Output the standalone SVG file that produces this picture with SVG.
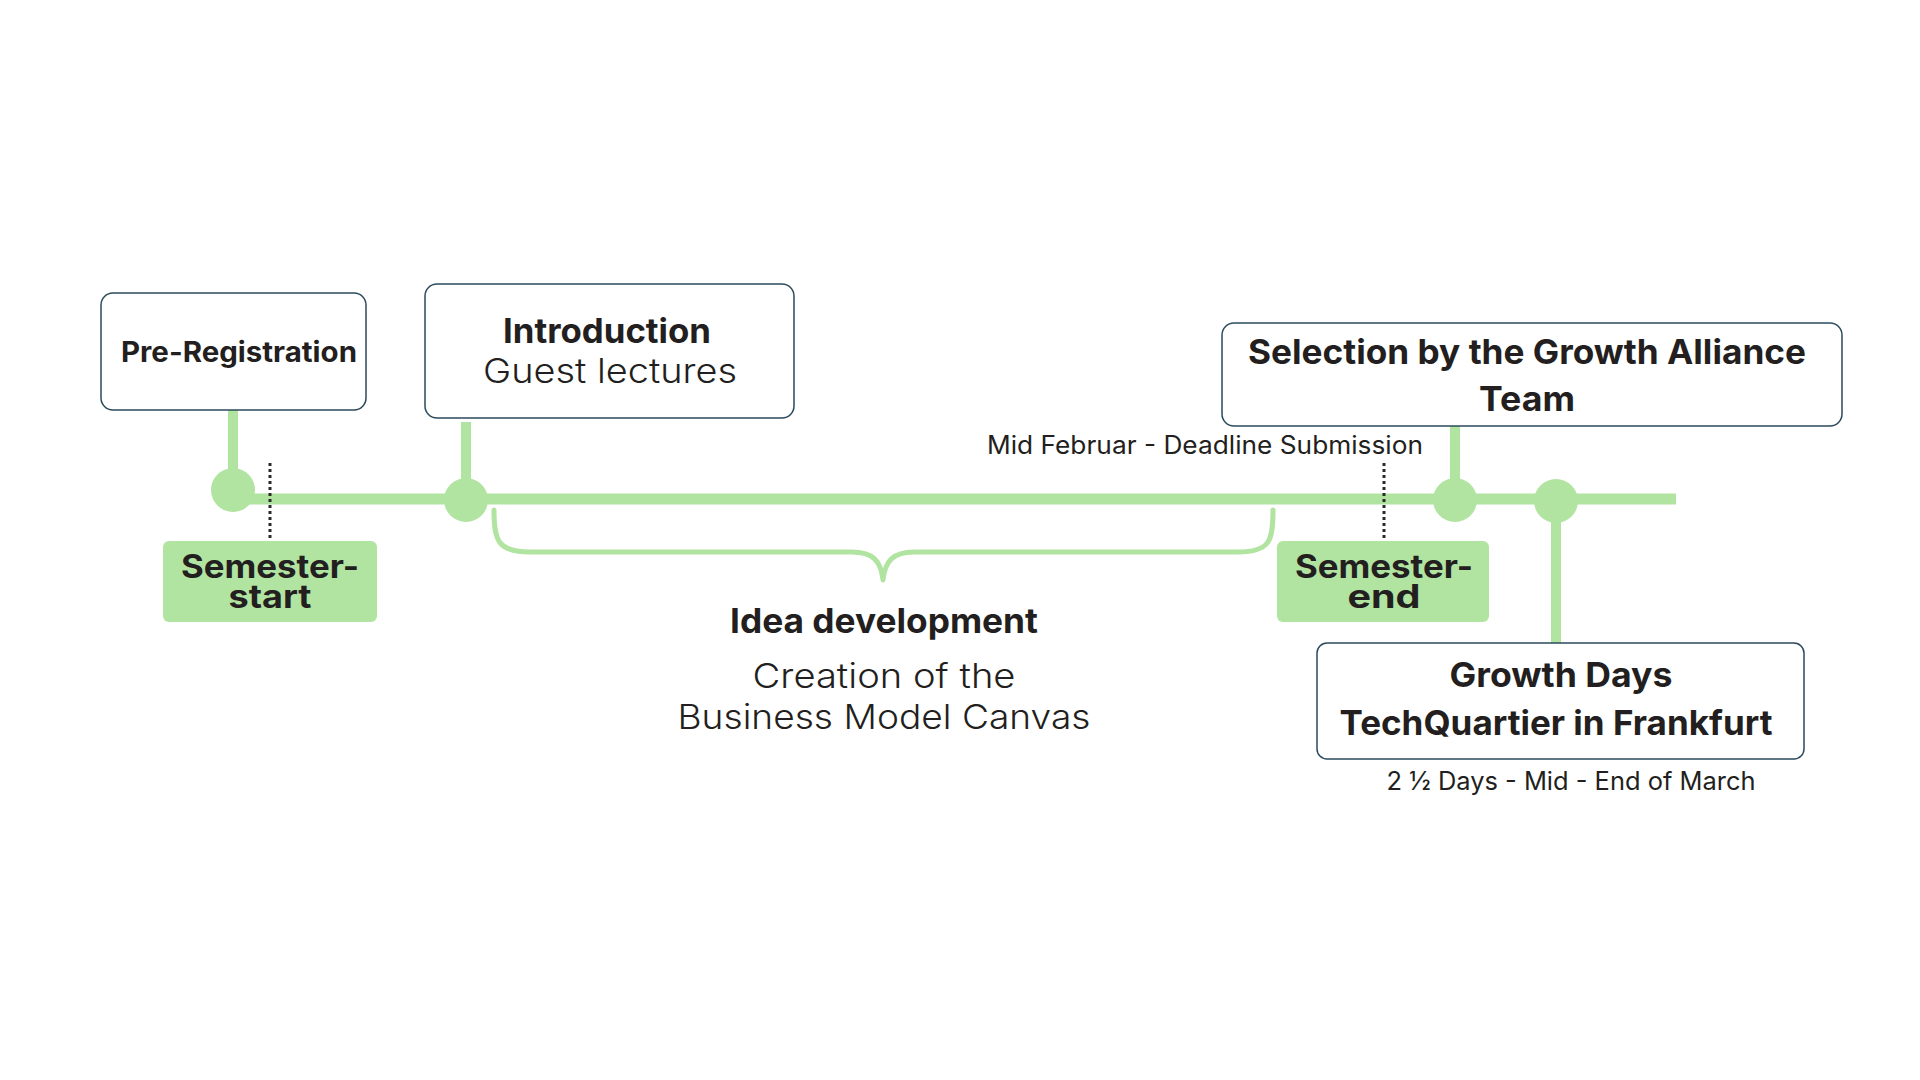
<svg xmlns="http://www.w3.org/2000/svg" width="1920" height="1080" viewBox="0 0 1920 1080">
<style>
.box{fill:#ffffff;stroke:#2b4a5c;stroke-width:1.5}
.tag{fill:#b1e4a1}
.t{font-family:Inter,"Noto Sans","Liberation Sans",sans-serif;fill:#231f20}
.b{font-weight:700}
.l{font-weight:300}
.r{font-weight:400}
.g{fill:#b1e4a1}
.stem{stroke:#b1e4a1;stroke-width:10;fill:none}
.dot{stroke:#2a2a2a;stroke-width:3;stroke-dasharray:3 3;fill:none}
</style>
<rect width="1920" height="1080" fill="#ffffff"/>
<g id="connectors">
<line class="stem" x1="233" y1="499" x2="1676" y2="499" style="stroke-width:11"/>
<line class="stem" x1="233" y1="410" x2="233" y2="490"/>
<line class="stem" x1="466" y1="422" x2="466" y2="500"/>
<line class="stem" x1="1455" y1="426" x2="1455" y2="500"/>
<line class="stem" x1="1556" y1="500" x2="1556" y2="643"/>
<path d="M494 510 C494 541 498 552 530 552 L852 552 C873 552 881 561 883 580 C885 561 893 552 914 552 L1238 552 C1270 552 1273 541 1273 510" fill="none" stroke="#b1e4a1" stroke-width="5" stroke-linecap="round" stroke-linejoin="round"/>
</g>
<g id="milestones">
<circle class="g" cx="233" cy="490" r="22"/>
<circle class="g" cx="466" cy="500" r="22"/>
<circle class="g" cx="1455" cy="500" r="22"/>
<circle class="g" cx="1556" cy="501" r="22"/>
</g>
<g id="markers">
<line class="dot" x1="270" y1="463" x2="270" y2="540"/>
<line class="dot" x1="1384" y1="463" x2="1384" y2="540"/>
</g>
<g id="pre-registration">
<rect class="box" x="101" y="293" width="265" height="117" rx="12"/>
<text class="t b" x="239" y="362" font-size="28" text-anchor="middle" textLength="236" lengthAdjust="spacingAndGlyphs">Pre-Registration</text>
</g>
<g id="introduction">
<rect class="box" x="425" y="284" width="369" height="134" rx="12"/>
<text class="t b" x="607" y="343" font-size="34" text-anchor="middle" textLength="208" lengthAdjust="spacingAndGlyphs">Introduction</text>
<text class="t l" x="610" y="383" font-size="34" text-anchor="middle" textLength="254" lengthAdjust="spacingAndGlyphs">Guest lectures</text>
</g>
<g id="semester-start">
<rect class="tag" x="163" y="541" width="214" height="81" rx="6"/>
<text class="t b" x="270" y="578" font-size="32" text-anchor="middle" textLength="178" lengthAdjust="spacingAndGlyphs">Semester-</text>
<text class="t b" x="270" y="608" font-size="32" text-anchor="middle" textLength="83" lengthAdjust="spacingAndGlyphs">start</text>
</g>
<g id="idea-development">
<text class="t b" x="884" y="633" font-size="34" text-anchor="middle" textLength="308" lengthAdjust="spacingAndGlyphs">Idea development</text>
<text class="t l" x="884" y="688" font-size="34" text-anchor="middle" textLength="263" lengthAdjust="spacingAndGlyphs">Creation of the</text>
<text class="t l" x="884" y="729" font-size="34" text-anchor="middle" textLength="413" lengthAdjust="spacingAndGlyphs">Business Model Canvas</text>
</g>
<g id="deadline">
<text class="t r" x="1205" y="454" font-size="25" text-anchor="middle" textLength="436" lengthAdjust="spacingAndGlyphs">Mid Februar - Deadline Submission</text>
</g>
<g id="semester-end">
<rect class="tag" x="1277" y="541" width="212" height="81" rx="6"/>
<text class="t b" x="1384" y="578" font-size="32" text-anchor="middle" textLength="178" lengthAdjust="spacingAndGlyphs">Semester-</text>
<text class="t b" x="1384" y="608" font-size="32" text-anchor="middle" textLength="73" lengthAdjust="spacingAndGlyphs">end</text>
</g>
<g id="selection">
<rect class="box" x="1222" y="323" width="620" height="103" rx="12"/>
<text class="t b" x="1527" y="364" font-size="34" text-anchor="middle" textLength="558" lengthAdjust="spacingAndGlyphs">Selection by the Growth Alliance</text>
<text class="t b" x="1527" y="411" font-size="34" text-anchor="middle" textLength="96" lengthAdjust="spacingAndGlyphs">Team</text>
</g>
<g id="growth-days">
<rect class="box" x="1317" y="643" width="487" height="116" rx="10"/>
<text class="t b" x="1561" y="687" font-size="34" text-anchor="middle" textLength="223" lengthAdjust="spacingAndGlyphs">Growth Days</text>
<text class="t b" x="1556" y="735" font-size="34" text-anchor="middle" textLength="433" lengthAdjust="spacingAndGlyphs">TechQuartier in Frankfurt</text>
<text class="t r" x="1571" y="790" font-size="25" text-anchor="middle" textLength="369" lengthAdjust="spacingAndGlyphs">2 ½ Days - Mid - End of March</text>
</g>
</svg>
